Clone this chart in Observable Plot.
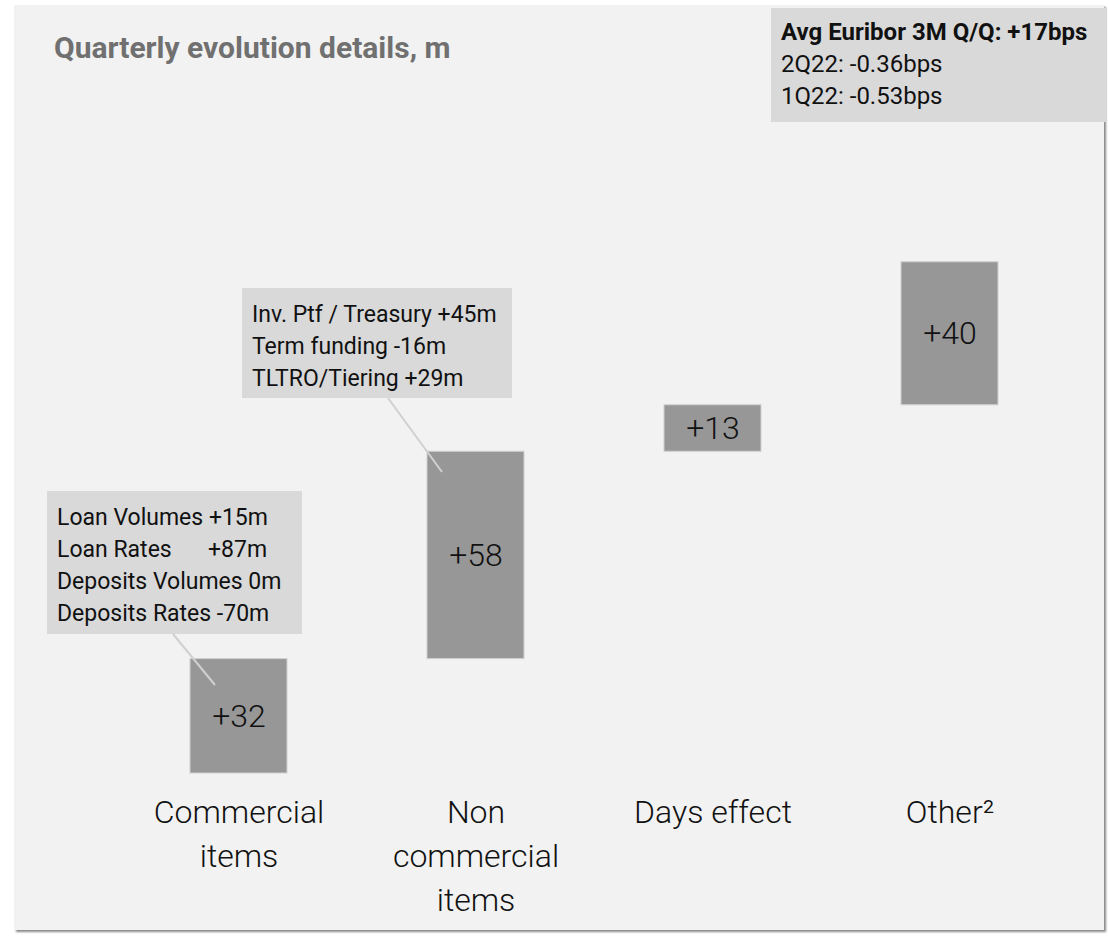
<!DOCTYPE html>
<html>
<head>
<meta charset="utf-8">
<script src="https://cdn.jsdelivr.net/npm/d3@7"></script>
<script src="https://cdn.jsdelivr.net/npm/@observablehq/plot@0.6"></script>
<style>
  html, body { margin: 0; padding: 0; background: #ffffff; }
  body { width: 1109px; height: 937px; position: relative; overflow: hidden; font-family: Roboto, "Noto Sans", sans-serif; }
  #panel { position: absolute; left: 14px; top: 5px; width: 1090px; height: 925px; background: #f2f2f2; box-shadow: 2px 2px 2px #8a8a8a; }
  #chart { position: absolute; left: 0; top: 0; }
  #title { position: absolute; left: 54px; top: 30px; font-size: 30px; font-weight: 700; color: #707070; white-space: nowrap; }
  .note { position: absolute; background: #d9d9d9; color: #111; font-size: 23px; line-height: 32px; white-space: nowrap; box-sizing: border-box; }
  .note b { font-weight: 700; }
  #lines { position: absolute; left: 0; top: 0; pointer-events: none; }
</style>
</head>
<body>
<div id="panel"></div>
<div id="chart"></div>
<div id="title"></div>
<div id="euribor" class="note" style="left:771px; top:8px; width:336px; height:114px; padding:8px 0 0 10px; font-size:24px;"></div>
<div id="noteNonComm" class="note" style="left:242px; top:288px; width:270px; height:110px; padding:11px 0 0 10px;"></div>
<div id="noteComm" class="note" style="left:47px; top:491px; width:255px; height:143px; padding:11px 0 0 10px;"></div>
<svg id="lines" width="1109" height="937">
  <line x1="173" y1="634" x2="215" y2="685" stroke="#d0d0d0" stroke-width="2"/>
  <line x1="388" y1="398" x2="442" y2="472" stroke="#d0d0d0" stroke-width="2"/>
</svg>
<script>
const titleText = "Quarterly evolution details, m";
const categories = ["Commercial items", "Non commercial items", "Days effect", "Other²"];
const axisLabels = ["Commercial\nitems", "Non\ncommercial\nitems", "Days effect", "Other²"];
const deltas = [32, 58, 13, 40];
const valueLabels = ["+32", "+58", "+13", "+40"];

const euriborNotes = ["Avg Euribor 3M Q/Q: +17bps", "2Q22: -0.36bps", "1Q22: -0.53bps"];
const nonCommNotes = ["Inv. Ptf / Treasury +45m", "Term funding -16m", "TLTRO/Tiering +29m"];
const commNoteNames = ["Loan Volumes", "Loan Rates", "Deposits Volumes", "Deposits Rates"];
const commNoteValues = ["+15m", "+87m", "0m", "-70m"];

// Build waterfall table
let running = 0;
const data = categories.map((c, i) => {
  const start = running;
  running += deltas[i];
  return { cat: c, start, end: running, label: valueLabels[i], axis: axisLabels[i] };
});

document.getElementById("title").textContent = titleText;
document.getElementById("euribor").innerHTML =
  euriborNotes.map((t, i) => `<div>${i === 0 ? "<b>" + t + "</b>" : t}</div>`).join("");
document.getElementById("noteNonComm").innerHTML = nonCommNotes.map(t => `<div>${t}</div>`).join("");
document.getElementById("noteComm").innerHTML = commNoteNames.map((n, i) =>
  i === 1 ? `<div><span style="display:inline-block;width:151px">${n}</span>${commNoteValues[i]}</div>`
          : `<div>${n} ${commNoteValues[i]}</div>`).join("");

const pxPerUnit = 3.575;
const chart = Plot.plot({
  width: 1109,
  height: 937,
  marginLeft: 120,
  marginRight: 40,
  marginTop: 0,
  marginBottom: 164,
  style: { background: "transparent", fontFamily: "Roboto, 'Noto Sans', sans-serif", color: "#111" },
  x: { domain: categories, paddingInner: 0.59, paddingOuter: 0.293, label: null },
  y: { domain: [0, 200], range: [773, 773 - 200 * pxPerUnit], axis: null },
  marks: [
    Plot.barY(data, { x: "cat", y1: "start", y2: "end", fill: "#979797", stroke: "#d0d0d0", strokeWidth: 1 }),
    Plot.text(data, { x: "cat", y: d => (d.start + d.end) / 2, text: "label", fontSize: 32, fontWeight: 300, fill: "#111" }),
    Plot.axisX({ tickSize: 0, tickPadding: 18, fontSize: 32, fontWeight: 300, lineHeight: 1.375, fill: "#111", label: null,
                 tickFormat: d => axisLabels[categories.indexOf(d)] })
  ]
});
document.getElementById("chart").appendChild(chart);
</script>
</body>
</html>
